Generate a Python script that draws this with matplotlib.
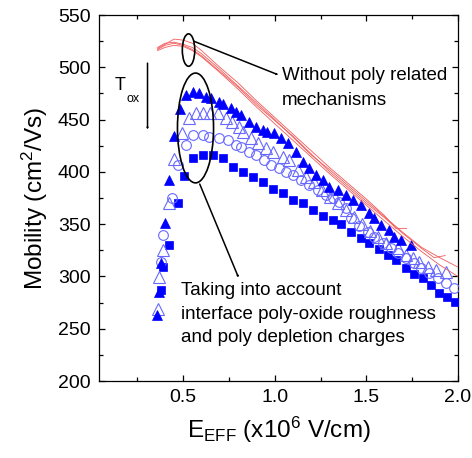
import matplotlib
matplotlib.use("Agg")
import matplotlib.pyplot as plt
from matplotlib.patches import Ellipse, FancyArrowPatch
from matplotlib.ticker import MultipleLocator

plt.rcParams['font.family'] = ['Liberation Sans', 'DejaVu Sans']
plt.rcParams['mathtext.fontset'] = 'custom'
plt.rcParams['mathtext.rm'] = 'Liberation Sans'
plt.rcParams['mathtext.it'] = 'Liberation Sans:italic'

# ---- measured mobility curves (E_eff in 1e6 V/cm, mobility in cm^2/Vs) ----
# thinnest oxide: filled triangles
e_tri_f = [0.359, 0.365, 0.376, 0.398, 0.425, 0.447, 0.480, 0.513, 0.551, 0.584,
           0.622, 0.650, 0.693, 0.715, 0.759, 0.786, 0.814, 0.858, 0.896, 0.934,
           0.956, 0.995, 1.033, 1.071, 1.115, 1.153, 1.186, 1.225, 1.263, 1.296,
           1.345, 1.389, 1.427, 1.471, 1.515, 1.542, 1.580, 1.624, 1.652, 1.690,
           1.745]
mu_tri_f = [263, 285, 313, 351, 392, 434, 460, 473.5, 476.4, 475.4,
            471.6, 470.6, 466.8, 464.9, 461.1, 457.2, 454.4, 447.7, 442.9, 440.0,
            438.1, 437.2, 432.4, 427.6, 419.0, 409.4, 403.7, 397.0, 392.2, 385.5,
            382.6, 377.9, 373.1, 368.3, 360.7, 355.9, 349.2, 344.4, 337.7, 334.8,
            330.1]

# open triangles
e_tri_o = [0.360, 0.370, 0.392, 0.420, 0.447, 0.491, 0.529, 0.567, 0.606, 0.644,
           0.688, 0.732, 0.765, 0.803, 0.825, 0.869, 0.907, 0.951, 0.989, 1.044,
           1.077, 1.126, 1.170, 1.214, 1.258, 1.302, 1.345, 1.389, 1.433, 1.476,
           1.520, 1.564, 1.608, 1.674, 1.717, 1.756, 1.789, 1.838, 1.882, 1.936]
mu_tri_o = [268.9, 299.4, 325.3, 370.2, 412.3, 437.2, 451.5, 456.3, 456.3, 456.3,
            456.3, 451.5, 447.7, 442.9, 438.1, 432.4, 427.6, 422.8, 419.0, 414.2,
            411.3, 401.8, 395.1, 390.3, 382.6, 376.0, 370.2, 363.5, 356.8, 350.1,
            343.4, 337.7, 332.0, 327.2, 320.5, 317.6, 313.8, 309.0, 306.2, 304.2]

# open circles
e_circ = [0.381, 0.392, 0.441, 0.474, 0.513, 0.556, 0.606, 0.639, 0.693, 0.743,
          0.786, 0.814, 0.858, 0.896, 0.940, 0.978, 1.022, 1.060, 1.099, 1.142,
          1.186, 1.236, 1.280, 1.318, 1.351, 1.389, 1.418, 1.462, 1.511, 1.544,
          1.593, 1.636, 1.674, 1.717, 1.761, 1.799, 1.843, 1.893, 1.936, 1.980]
mu_circ = [313.8, 339.6, 375.0, 406.6, 425.7, 435.2, 435.2, 433.3, 432.4, 430.5,
           425.7, 423.8, 419.0, 416.1, 411.3, 406.6, 403.7, 399.9, 397.0, 392.2,
           387.4, 382.6, 377.9, 375.0, 371.2, 365.0, 355.9, 348.2, 342.5, 337.7,
           332.0, 327.2, 322.4, 317.6, 312.8, 308.0, 303.3, 298.5, 293.7, 288.9]

# thickest oxide: filled squares
e_sq = [0.376, 0.392, 0.425, 0.469, 0.502, 0.551, 0.606, 0.660, 0.715, 0.770,
        0.825, 0.880, 0.934, 0.989, 1.044, 1.099, 1.153, 1.208, 1.263, 1.318,
        1.362, 1.416, 1.471, 1.515, 1.569, 1.618, 1.662, 1.717, 1.761, 1.811,
        1.854, 1.898, 1.942, 1.986]
mu_sq = [287.0, 309.0, 330.0, 370.2, 396.0, 413.2, 416.1, 416.1, 413.2, 404.6,
         399.9, 395.1, 390.3, 383.6, 379.8, 373.1, 370.2, 363.5, 357.8, 354.0,
         350.1, 342.5, 336.7, 332.0, 326.2, 320.5, 315.7, 308.1, 302.3, 298.5,
         291.8, 284.2, 280.3, 275.6]

# simulations without poly related mechanisms (red thin lines)
e_sim1 = [0.36, 0.40, 0.45, 0.50, 0.55, 0.60, 0.70, 0.80, 0.90, 1.00, 1.10, 1.20,
          1.30, 1.40, 1.50, 1.60, 1.66, 1.72]
mu_sim1 = [518, 522, 527, 526, 523, 516, 500, 485, 468, 452, 436, 420,
           404, 389, 374, 358, 346, 346]
e_sim2 = [0.36, 0.40, 0.45, 0.50, 0.55, 0.60, 0.70, 0.80, 0.90, 1.00, 1.10, 1.20,
          1.30, 1.40, 1.50, 1.60, 1.70, 1.80, 1.87, 1.93]
mu_sim2 = [517, 521, 523, 521, 517, 511, 496, 481, 464, 449, 434, 417,
           400, 385, 370, 356, 341, 327, 318, 320]
e_sim3 = [0.36, 0.40, 0.45, 0.50, 0.55, 0.60, 0.70, 0.80, 0.90, 1.00, 1.10, 1.20,
          1.30, 1.40, 1.50, 1.60, 1.70, 1.80, 1.90, 2.00]
mu_sim3 = [519, 523, 524, 522, 519, 513, 498, 482, 466, 450, 433, 416,
           402, 387, 372, 357, 342, 328, 318, 309]
e_sim4 = [0.36, 0.40, 0.45, 0.50, 0.55, 0.60, 0.70, 0.80, 0.90, 1.00, 1.10, 1.20,
          1.30, 1.40, 1.50, 1.60, 1.70, 1.80, 1.90, 2.00]
mu_sim4 = [516, 519, 521, 520, 516, 510, 495, 479, 462, 446, 430, 414,
           398, 383, 368, 353, 338, 324, 311, 300]

x_ticks = [0.5, 1.0, 1.5, 2.0]
y_ticks = [200, 250, 300, 350, 400, 450, 500, 550]

blue = '#0000ff'
light_blue = '#6868ff'
red = '#f25a5a'

fig = plt.figure(figsize=(4.72, 4.58), dpi=100)
ax = fig.add_axes([0.2097, 0.168, 0.7606, 0.7992])

ax.plot(e_sq, mu_sq, ls='none', marker='s', ms=6, mfc=blue, mec=blue, mew=0.5, zorder=3)
ax.plot(e_circ, mu_circ, ls='none', marker='o', ms=7, mfc='none', mec=light_blue, mew=0.8, zorder=3)
ax.plot(e_tri_o, mu_tri_o, ls='none', marker='^', ms=8, mfc='none', mec=light_blue, mew=0.8, zorder=3)
ax.plot(e_tri_f, mu_tri_f, ls='none', marker='^', ms=7.5, mfc=blue, mec=blue, mew=0.5, zorder=4)

for ee, mm in [(e_sim1, mu_sim1), (e_sim2, mu_sim2), (e_sim3, mu_sim3), (e_sim4, mu_sim4)]:
    ax.plot(ee, mm, color=red, lw=0.6, zorder=5)

ax.set_xlim(0.04, 2.0)
ax.set_ylim(200, 550)
ax.set_xticks(x_ticks)
ax.set_xticklabels(['%.1f' % v for v in x_ticks])
ax.set_yticks(y_ticks)
ax.xaxis.set_minor_locator(MultipleLocator(0.25))
ax.yaxis.set_minor_locator(MultipleLocator(25))
ax.tick_params(which='both', direction='in', top=True, right=True, width=0.9, labelsize=14, pad=6)
ax.tick_params(which='major', length=4.5)
ax.tick_params(which='minor', length=3)
for s in ax.spines.values():
    s.set_linewidth(0.9)

ax.set_xlabel(r'E$_{\mathrm{EFF}}$ (x10$^{\mathrm{6}}$ V/cm)', fontsize=17.5, labelpad=6)
ax.set_ylabel(r'Mobility (cm$^{\mathrm{2}}$/Vs)', fontsize=17.5, labelpad=6)

# highlighted regions
ax.add_patch(Ellipse((0.529, 516.5), 0.068, 31, fill=False, ec='black', lw=1.2, zorder=6))
ax.add_patch(Ellipse((0.567, 442), 0.197, 105, fill=False, ec='black', lw=1.2, zorder=6))

arrow_kw = dict(arrowstyle='-|>,head_length=0.6,head_width=0.22', color='black', lw=1.1,
                shrinkA=0, shrinkB=0, zorder=6)
ax.add_patch(FancyArrowPatch((0.557, 525), (1.022, 492.6), **arrow_kw))
ax.add_patch(FancyArrowPatch((0.590, 388.4), (0.803, 298.5), **arrow_kw))
ax.add_patch(FancyArrowPatch((0.305, 504), (0.305, 440), **arrow_kw))

# oxide thickness label next to the trend arrow
ax.text(0.127, 483, 'T', fontsize=13, ha='left', va='center')
ax.text(0.192, 470, 'ox', fontsize=9, ha='left', va='center')

ax.text(1.04, 492.6, 'Without poly related', fontsize=13.5, ha='left', va='center')
ax.text(1.04, 468.7, 'mechanisms', fontsize=13.5, ha='left', va='center')

ax.text(0.487, 287, 'Taking into account', fontsize=13.5, ha='left', va='center')
ax.text(0.487, 264, 'interface poly-oxide roughness', fontsize=13.5, ha='left', va='center')
ax.text(0.487, 241.5, 'and poly depletion charges', fontsize=13.5, ha='left', va='center')

fig.savefig('out.png', dpi=100)
